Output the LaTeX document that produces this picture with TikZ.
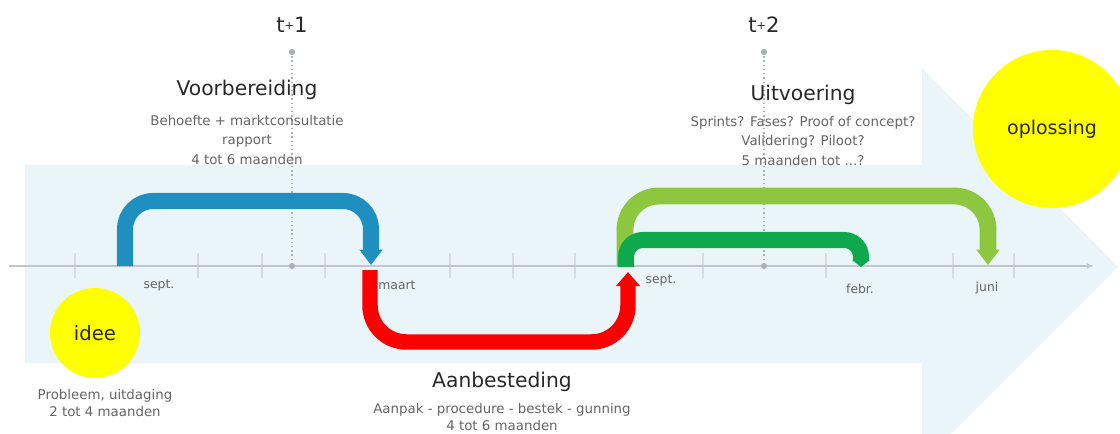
\documentclass[tikz,border=0pt]{standalone}
\usepackage{fontspec}
\setmainfont{DejaVu Sans}
\usetikzlibrary{arrows.meta}
\definecolor{band}{RGB}{234,245,250}
\definecolor{axisc}{RGB}{192,200,205}
\definecolor{tickc}{RGB}{212,220,224}
\definecolor{dotc}{RGB}{170,175,178}
\definecolor{bluea}{RGB}{30,143,190}
\definecolor{reda}{RGB}{250,0,0}
\definecolor{lgreen}{RGB}{141,198,63}
\definecolor{dgreen}{RGB}{16,168,76}
\definecolor{ttl}{RGB}{40,40,40}
\definecolor{subc}{RGB}{100,100,100}
\definecolor{yel}{RGB}{255,255,0}
\begin{document}
\begin{tikzpicture}[x=0.025cm,y=-0.025cm,
  ttlstyle/.style={font=\fontsize{14.4}{16}\selectfont, text=ttl, inner sep=0pt},
  substyle/.style={font=\fontsize{9.5}{13.8}\selectfont, text=subc, align=center, inner sep=0pt},
  tlab/.style={font=\fontsize{8.8}{10}\selectfont, text=subc, inner sep=0pt},
  tmark/.style={font=\fontsize{15}{16}\selectfont, text=ttl, inner sep=0pt},
  bubble/.style={circle, fill=yel, inner sep=0pt, text=ttl},
  flow/.style={line width=11.4pt},
  tickline/.style={tickc, line width=0.8pt},
  guide/.style={dotc, dotted, line width=1pt}
]
\useasboundingbox (0,0) rectangle (1120,434);

% background arrow
\fill[band] (25,165) -- (922,165) -- (922,68) -- (1118,267) -- (951,434)
  -- (922,434) -- (922,363) -- (25,363) -- cycle;

% axis
\coordinate (axL) at (9,266);
\coordinate (axR) at (1094,266);
\foreach \x in {75,198,262,325,450,513,575,703,826,953,1014}
  \draw[tickline] (\x,253) -- (\x,278);
\draw[axisc, line width=1pt, -{Latex[length=5pt,width=4pt]}] (axL) -- (axR);

% year guides
\coordinate (t1top) at (292,52);
\coordinate (t1ax) at (292,266);
\coordinate (t2top) at (764,52);
\coordinate (t2ax) at (764,266);
\draw[guide] (t1top) -- (t1ax);
\draw[guide] (t2top) -- (t2ax);
\foreach \p in {t1top,t1ax,t2top,t2ax} \fill[dotc] (\p) circle (2.2pt);

\node[tmark] (t1) at (292,25) {t\raisebox{2.4pt}{\fontsize{8}{8}\selectfont+}1};
\node[tmark] (t2) at (764,25) {t\raisebox{2.4pt}{\fontsize{8}{8}\selectfont+}2};

% flow arrows
\coordinate (bS) at (125,266);
\coordinate (bE) at (371,265);
\coordinate (rS) at (370,270);
\coordinate (rE) at (628,272);
\coordinate (lS) at (625,266);
\coordinate (lE) at (988,265);
\coordinate (gS) at (626,267);
\coordinate (gE) at (861,267);

\draw[flow, bluea, rounded corners=20pt, -{Triangle[width=16pt,length=11pt]}]
  (bS) -- (bS |- 0,201) -- (bE |- 0,201) -- (bE);
\draw[flow, reda, line width=11pt, rounded corners=26pt, -{Triangle[width=16.5pt,length=10pt]}]
  (rS) -- (rS |- 0,342) -- (rE |- 0,342) -- (rE);
\draw[flow, lgreen, line width=12pt, rounded corners=24pt, -{Triangle[width=16pt,length=11pt]}]
  (lS) -- (lS |- 0,196) -- (lE |- 0,196) -- (lE);
\draw[flow, dgreen, rounded corners=12pt, -{Triangle[width=12.5pt,length=5pt]}]
  (gS) -- (gS |- 0,240) -- (gE |- 0,240) -- (gE);

% axis labels
\node[tlab] (lsept1) at (159,285) {sept.};
\node[tlab] (lmaart) at (397,285) {maart};
\node[tlab] (lsept2) at (661,280) {sept.};
\node[tlab] (lfebr) at (860,289) {febr.};
\node[tlab] (ljuni) at (987,288) {juni};

% phase texts
\node[ttlstyle] (voor) at (247,90) {Voorbereiding};
\node[substyle] (voorsub) at (247,140) {Behoefte + marktconsultatie\\rapport\\4 tot 6 maanden};
\node[ttlstyle] (uitv) at (803,95) {Uitvoering};
\node[substyle] (uitvsub) at (803,141) {Sprints? Fases? Proof of concept?\\Validering? Piloot?\\5 maanden tot ...?};
\node[ttlstyle] (aanb) at (502,382) {Aanbesteding};
\node[substyle, font=\fontsize{9.5}{11.6}\selectfont] (aanbsub) at (502,417) {Aanpak - procedure - bestek - gunning\\4 tot 6 maanden};
\node[substyle, font=\fontsize{9.5}{12.1}\selectfont] (ideesub) at (105,403.5) {Probleem, uitdaging\\2 tot 4 maanden};

% circles
\node[bubble, minimum size=2.25cm, font=\fontsize{14}{16}\selectfont] (idee) at (95,333) {idee};
\node[bubble, minimum size=3.95cm, font=\fontsize{13.5}{16}\selectfont] (oplossing) at (1052,129) {oplossing};
\end{tikzpicture}
\end{document}
